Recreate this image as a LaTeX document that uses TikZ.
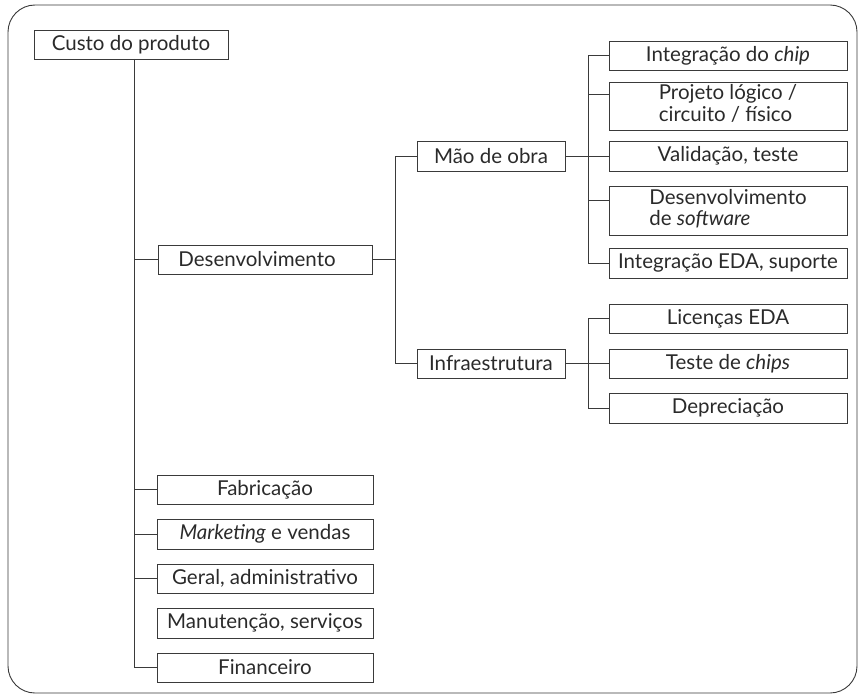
\documentclass[tikz,border=0pt]{standalone}
\usepackage{fontspec}
\setmainfont{Lato}
\definecolor{ln}{HTML}{3A3A3A}
\definecolor{tx}{HTML}{2A2A2A}
\begin{document}
\begin{tikzpicture}[x=1pt,y=-1pt,
  box/.style={draw=ln, line width=0.8pt, inner sep=0pt, text=tx, font=\fontsize{20.5}{20}\selectfont, align=center},
  conn/.style={draw=ln, line width=0.8pt}]
\useasboundingbox (0,0) rectangle (861,698);
\draw[ln, line width=0.9pt, rounded corners=27pt] (8,5) rectangle (857,693);

% level 0
\node[box, minimum width=194pt, minimum height=29pt] (custo) at (131,44.5) {Custo do produto};
% level 1
\node[box, minimum width=214pt, minimum height=29pt] (des) at (265,259.5) {Desenvolvimento\hspace*{16pt}};
\node[box, minimum width=216pt, minimum height=29pt] (fab) at (265,489.5) {Fabricação};
\node[box, minimum width=216pt, minimum height=30pt] (mkt) at (265,534) {\textit{Marketing} e vendas};
\node[box, minimum width=216pt, minimum height=29pt] (ger) at (265,578.5) {Geral, administrativo};
\node[box, minimum width=216pt, minimum height=30pt] (man) at (265,623) {Manutenção, serviços};
\node[box, minimum width=216pt, minimum height=29pt] (fin) at (265,667.5) {Financeiro};
% level 2
\node[box, minimum width=148pt, minimum height=30pt] (mao) at (491,156) {Mão de obra};
\node[box, minimum width=148pt, minimum height=29pt] (inf) at (491,363.5) {Infraestrutura};
% level 3
\node[box, minimum width=238pt, minimum height=29pt] (chip) at (728,55.5) {Integração do \textit{chip}};
\node[box, minimum width=238pt, minimum height=48pt] (proj) at (728,106) {\begin{tabular}{@{}l@{}}Projeto lógico /\\ circuito / físico\end{tabular}};
\node[box, minimum width=238pt, minimum height=30pt] (val) at (728,156) {Validação, teste};
\node[box, minimum width=238pt, minimum height=49pt] (soft) at (728,210.5) {\begin{tabular}{@{}l@{}}Desenvolvimento\\ de \textit{software}\end{tabular}};
\node[box, minimum width=238pt, minimum height=30pt] (eda) at (728,263) {Integração EDA, suporte};
\node[box, minimum width=238pt, minimum height=29pt] (lic) at (728,318.5) {Licenças EDA};
\node[box, minimum width=238pt, minimum height=29pt] (tst) at (728,363.5) {Teste de \textit{chips}};
\node[box, minimum width=238pt, minimum height=30pt] (dep) at (728,408) {Depreciação};

% junction coordinates
\coordinate (t0) at (134,59);
\coordinate (j1) at (395,0);
\coordinate (j2) at (588,0);

% trunk
\draw[conn] (t0) -- (t0 |- fin.west) -- (fin.west);
\draw[conn] (t0 |- des.west) -- (des.west);
\draw[conn] (t0 |- fab.west) -- (fab.west);
\draw[conn] (t0 |- mkt.west) -- (mkt.west);
\draw[conn] (t0 |- ger.west) -- (ger.west);

% Desenvolvimento subtree
\draw[conn] (des.east) -- (des.east -| j1);
\draw[conn] (mao.west) -- (j1 |- mao.west) -- (j1 |- inf.west) -- (inf.west);

% Mao de obra subtree
\draw[conn] (mao.east) -- (val.west);
\draw[conn] (chip.west) -- (j2 |- chip.west) -- (j2 |- eda.west) -- (eda.west);
\draw[conn] (j2 |- 0,94) -- (proj.west |- 0,94);
\draw[conn] (j2 |- 0,200) -- (soft.west |- 0,200);

% Infraestrutura subtree
\draw[conn] (inf.east) -- (tst.west);
\draw[conn] (lic.west) -- (j2 |- lic.west) -- (j2 |- dep.west) -- (dep.west);
\end{tikzpicture}
\end{document}
